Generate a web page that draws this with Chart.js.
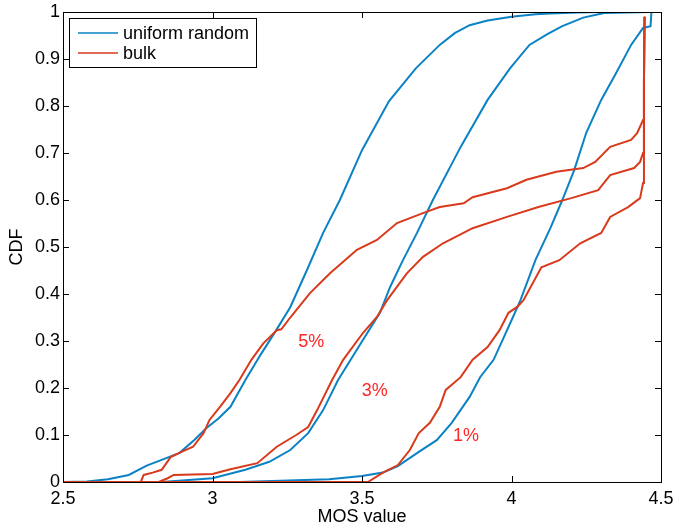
<!DOCTYPE html>
<html>
<head>
<meta charset="utf-8">
<script src="https://cdn.jsdelivr.net/npm/chart.js@4.4.1/dist/chart.umd.min.js"></script>
<style>
  body { margin: 0; background: #fff; }
  canvas { display: block; }
</style>
</head>
<body>
<canvas id="cdfChart" width="674" height="526"></canvas>
<script>
// axis ticks
const xTicks = [2.5, 3, 3.5, 4, 4.5];
const yTicks = [0, 0.1, 0.2, 0.3, 0.4, 0.5, 0.6, 0.7, 0.8, 0.9, 1];

// uniform random, 5%
const uniform5X = [2.50, 2.58, 2.65, 2.72, 2.78, 2.83, 2.89, 2.94, 2.98, 3.02, 3.06, 3.11, 3.16, 3.21, 3.26, 3.316, 3.37, 3.426, 3.50, 3.59, 3.68, 3.76, 3.81, 3.86, 3.92, 4.00, 4.08, 4.13, 4.22, 4.30, 4.50];
const uniform5Y = [0, 0.001, 0.006, 0.015, 0.035, 0.047, 0.062, 0.09, 0.115, 0.135, 0.16, 0.217, 0.27, 0.32, 0.372, 0.451, 0.53, 0.60, 0.706, 0.81, 0.88, 0.93, 0.955, 0.972, 0.982, 0.99, 0.995, 0.997, 0.999, 1.0, 1.0];

// bulk, 5%
const bulk5X = [2.50, 2.76, 2.77, 2.80, 2.83, 2.86, 2.90, 2.935, 2.97, 2.99, 3.025, 3.06, 3.09, 3.13, 3.17, 3.215, 3.23, 3.26, 3.326, 3.393, 3.483, 3.55, 3.617, 3.704, 3.76, 3.84, 3.87, 3.985, 4.05, 4.15, 4.24, 4.28, 4.33, 4.40, 4.42, 4.44, 4.443, 4.445];
const bulk5Y = [0, 0, 0.015, 0.02, 0.026, 0.053, 0.065, 0.075, 0.104, 0.132, 0.16, 0.189, 0.217, 0.26, 0.295, 0.323, 0.325, 0.35, 0.402, 0.444, 0.494, 0.515, 0.551, 0.572, 0.585, 0.593, 0.606, 0.625, 0.643, 0.66, 0.668, 0.681, 0.713, 0.728, 0.742, 0.77, 0.85, 0.99];

// uniform random, 3%
const uniform3X = [2.50, 2.83, 3.00, 3.11, 3.19, 3.26, 3.32, 3.37, 3.42, 3.503, 3.56, 3.594, 3.637, 3.684, 3.737, 3.83, 3.92, 3.995, 4.06, 4.12, 4.17, 4.24, 4.31, 4.46, 4.50];
const uniform3Y = [0, 0, 0.008, 0.026, 0.043, 0.068, 0.104, 0.153, 0.217, 0.302, 0.36, 0.415, 0.472, 0.53, 0.60, 0.713, 0.813, 0.88, 0.93, 0.953, 0.97, 0.988, 0.998, 1.0, 1.0];

// bulk, 3%
const bulk3X = [2.50, 2.82, 2.85, 2.87, 3.00, 3.06, 3.15, 3.215, 3.28, 3.32, 3.35, 3.40, 3.437, 3.503, 3.55, 3.584, 3.65, 3.704, 3.771, 3.87, 3.985, 4.09, 4.20, 4.29, 4.33, 4.41, 4.43, 4.44, 4.443, 4.445];
const bulk3Y = [0, 0, 0.008, 0.015, 0.017, 0.027, 0.04, 0.075, 0.10, 0.117, 0.153, 0.217, 0.26, 0.317, 0.351, 0.387, 0.444, 0.479, 0.508, 0.54, 0.564, 0.585, 0.604, 0.621, 0.653, 0.668, 0.681, 0.70, 0.85, 0.99];

// uniform random, 1%
const uniform1X = [2.50, 3.09, 3.39, 3.50, 3.57, 3.62, 3.69, 3.75, 3.80, 3.86, 3.895, 3.94, 3.97, 4.005, 4.03, 4.08, 4.13, 4.17, 4.21, 4.25, 4.30, 4.35, 4.40, 4.44, 4.465, 4.468, 4.50];
const uniform1Y = [0, 0, 0.006, 0.013, 0.02, 0.034, 0.064, 0.089, 0.126, 0.181, 0.223, 0.26, 0.302, 0.351, 0.387, 0.472, 0.54, 0.60, 0.664, 0.743, 0.813, 0.87, 0.93, 0.966, 0.97, 1.0, 1.0];

// bulk, 1%
const bulk1X = [2.50, 3.52, 3.57, 3.62, 3.66, 3.69, 3.727, 3.76, 3.78, 3.83, 3.87, 3.92, 3.96, 3.99, 4.02, 4.04, 4.10, 4.16, 4.23, 4.30, 4.33, 4.39, 4.43, 4.44, 4.443, 4.445];
const bulk1Y = [0, 0, 0.02, 0.036, 0.068, 0.104, 0.126, 0.16, 0.196, 0.223, 0.26, 0.287, 0.323, 0.36, 0.373, 0.387, 0.457, 0.472, 0.508, 0.53, 0.564, 0.585, 0.604, 0.636, 0.85, 0.99];

// percentage labels
const pctLabels = ['5%', '3%', '1%'];
const pctX = [3.33, 3.543, 3.848];
const pctY = [0.298, 0.194, 0.098];

const BLUE = '#0b82c4';
const RED = '#d93a1c';
const FONT = "'Liberation Sans', Arial, sans-serif";

const toPoints = (xs, ys) => xs.map((x, i) => ({ x: x, y: ys[i] }));

function lineSet(label, xs, ys, color, order) {
    return {
        label: label,
        data: toPoints(xs, ys),
        borderColor: color,
        backgroundColor: color,
        borderWidth: 2,
        pointRadius: 0,
        tension: 0,
        fill: false,
        order: order
    };
}

const boxPlugin = {
    id: 'matlabBox',
    afterDraw(chart) {
        const ctx = chart.ctx;
        const a = chart.chartArea;
        const xs = chart.scales.x, ys = chart.scales.y;
        ctx.save();

        // percentage labels
        ctx.fillStyle = '#ff2626';
        ctx.font = '18px ' + FONT;
        ctx.textAlign = 'center';
        ctx.textBaseline = 'middle';
        pctLabels.forEach((t, i) => {
            ctx.fillText(t, xs.getPixelForValue(pctX[i]), ys.getPixelForValue(pctY[i]));
        });

        // axes box with inward ticks
        ctx.strokeStyle = '#000';
        ctx.lineWidth = 1;
        ctx.strokeRect(Math.round(a.left) + 0.5, Math.round(a.top) + 0.5,
            Math.round(a.right - a.left), Math.round(a.bottom - a.top));
        ctx.beginPath();
        xTicks.forEach(v => {
            const px = Math.round(xs.getPixelForValue(v)) + 0.5;
            ctx.moveTo(px, a.bottom); ctx.lineTo(px, a.bottom - 6);
            ctx.moveTo(px, a.top); ctx.lineTo(px, a.top + 6);
        });
        yTicks.forEach(v => {
            const py = Math.round(ys.getPixelForValue(v)) + 0.5;
            ctx.moveTo(a.left, py); ctx.lineTo(a.left + 6, py);
            ctx.moveTo(a.right, py); ctx.lineTo(a.right - 6, py);
        });
        ctx.stroke();

        // legend
        const lx = 69.5, ly = 18.5, lw = 187, lh = 49;
        ctx.fillStyle = '#fff';
        ctx.fillRect(lx, ly, lw, lh);
        ctx.strokeRect(lx, ly, lw, lh);
        const items = [['uniform random', BLUE], ['bulk', RED]];
        ctx.font = '18px ' + FONT;
        ctx.textAlign = 'left';
        ctx.textBaseline = 'middle';
        items.forEach((it, i) => {
            const y = 33 + i * 20;
            ctx.strokeStyle = it[1];
            ctx.lineWidth = 1.5;
            ctx.beginPath();
            ctx.moveTo(78, y); ctx.lineTo(118, y);
            ctx.stroke();
            ctx.fillStyle = '#000';
            ctx.fillText(it[0], 123, y + 1);
        });
        ctx.restore();
    }
};

new Chart(document.getElementById('cdfChart').getContext('2d'), {
    type: 'line',
    data: {
        datasets: [
            lineSet('uniform random', uniform5X, uniform5Y, BLUE, 2),
            lineSet('bulk', bulk5X, bulk5Y, RED, 1),
            lineSet('uniform random', uniform3X, uniform3Y, BLUE, 2),
            lineSet('bulk', bulk3X, bulk3Y, RED, 1),
            lineSet('uniform random', uniform1X, uniform1Y, BLUE, 2),
            lineSet('bulk', bulk1X, bulk1Y, RED, 1)
        ]
    },
    options: {
        responsive: false,
        animation: false,
        layout: { padding: { top: 12, right: 13, left: 0, bottom: 0 } },
        plugins: {
            legend: { display: false },
            tooltip: { enabled: false }
        },
        scales: {
            x: {
                type: 'linear',
                min: 2.5,
                max: 4.5,
                afterFit: s => { s.height = 44; s.paddingLeft = 0; s.paddingRight = 0; },
                afterBuildTicks: s => { s.ticks = xTicks.map(v => ({ value: v })); },
                grid: { display: false, drawTicks: false, tickLength: 0 },
                border: { display: false },
                ticks: {
                    color: '#000',
                    padding: 6,
                    maxRotation: 0,
                    font: { family: FONT, size: 18 },
                    callback: v => String(v)
                },
                title: {
                    display: true,
                    text: 'MOS value',
                    color: '#000',
                    padding: 0,
                    font: { family: FONT, size: 18, lineHeight: 1 }
                }
            },
            y: {
                type: 'linear',
                min: 0,
                max: 1,
                afterFit: s => { s.width = 63; s.paddingTop = 0; s.paddingBottom = 0; },
                afterBuildTicks: s => { s.ticks = yTicks.map(v => ({ value: v })); },
                grid: { display: false, drawTicks: false, tickLength: 0 },
                border: { display: false },
                ticks: {
                    color: '#000',
                    padding: 3,
                    font: { family: FONT, size: 18 },
                    callback: v => String(v)
                },
                title: {
                    display: true,
                    text: 'CDF',
                    color: '#000',
                    padding: { top: 8, bottom: 0 },
                    font: { family: FONT, size: 18, lineHeight: 1 }
                }
            }
        }
    },
    plugins: [boxPlugin]
});
</script>
</body>
</html>
